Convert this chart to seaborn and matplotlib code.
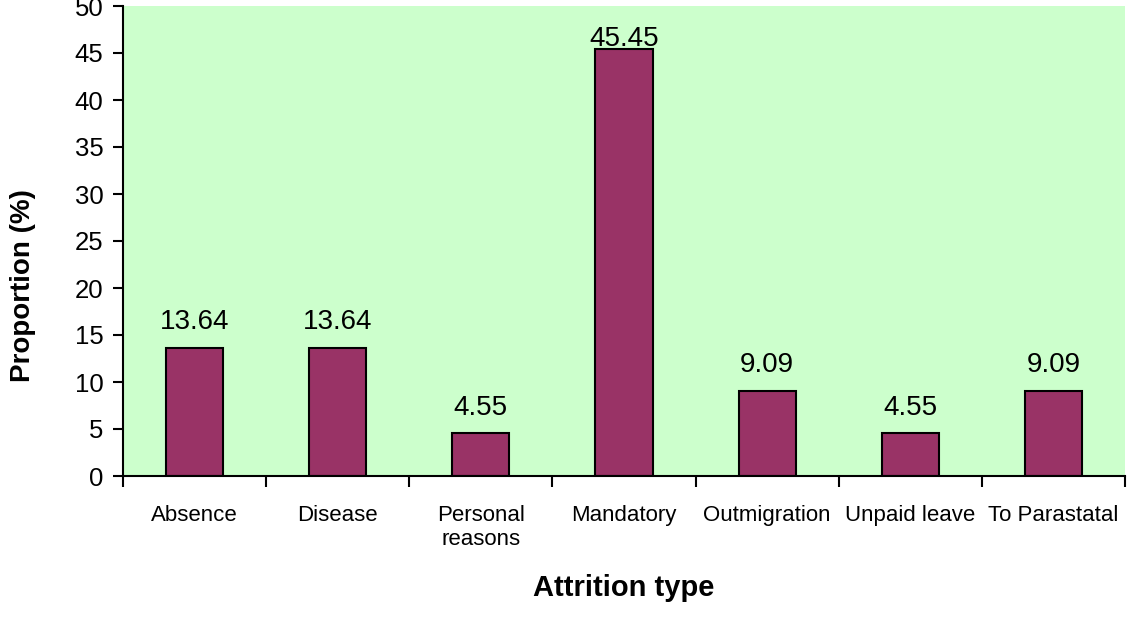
import numpy as np
import pandas as pd
import matplotlib
matplotlib.use('Agg')
import matplotlib.pyplot as plt
import seaborn as sns

# Data
categories = ['Absence', 'Disease', 'Personal\nreasons', 'Mandatory',
              'Outmigration', 'Unpaid leave', 'To Parastatal']
proportions = [13.64, 13.64, 4.55, 45.45, 9.09, 4.55, 9.09]
y_ticks = [0, 5, 10, 15, 20, 25, 30, 35, 40, 45, 50]

df = pd.DataFrame({'type': categories, 'value': proportions})

sns.set_style('ticks')
plt.rcParams['font.family'] = ['Liberation Sans', 'DejaVu Sans']
plt.rcParams['text.color'] = 'black'
plt.rcParams['axes.labelcolor'] = 'black'
plt.rcParams['xtick.color'] = 'black'
plt.rcParams['ytick.color'] = 'black'

fig = plt.figure(figsize=(11.27, 6.26), dpi=100)
ax = fig.add_axes([123 / 1127, 1 - 476 / 626, 1002 / 1127, 470 / 626])
ax.set_facecolor('#CCFFCC')

sns.barplot(data=df, x='type', y='value', color='#993366', edgecolor='black',
            linewidth=1.5, width=0.4, saturation=1, ax=ax)

# the tallest label sits close to the bar (it hits the top of the plot area)
top = max(proportions)
labels_low = ['' if v == top else f'{v:.2f}' for v in proportions]
labels_top = [f'{v:.2f}' if v == top else '' for v in proportions]
ax.bar_label(ax.containers[0], labels=labels_low, padding=9, fontsize=20)
ax.bar_label(ax.containers[0], labels=labels_top, padding=-2, fontsize=20)

ax.set_xlim(-0.5, len(categories) - 0.5)
ax.set_ylim(0, 50)
ax.set_yticks(y_ticks)
ax.tick_params(axis='y', labelsize=18.5, length=7, width=1.5, pad=7)

# category labels without ticks, tick marks at category boundaries
ax.tick_params(axis='x', which='major', length=0, labelsize=16, pad=21)
ax.set_xticks(np.arange(len(categories) + 1) - 0.5, minor=True)
ax.tick_params(axis='x', which='minor', length=8, width=1.5)

for s in ['top', 'right']:
    ax.spines[s].set_visible(False)
for s in ['left', 'bottom']:
    ax.spines[s].set_linewidth(1.5)
    ax.spines[s].set_color('black')

ax.set_xlabel('Attrition type', fontsize=21, fontweight='bold', labelpad=17)
ax.set_ylabel('Proportion (%)', fontsize=20, fontweight='bold')
# in the original the y title sits a bit below the middle of the axis
ax.yaxis.set_label_coords(-0.087, 0.405)

fig.savefig('out.png', dpi=100)
